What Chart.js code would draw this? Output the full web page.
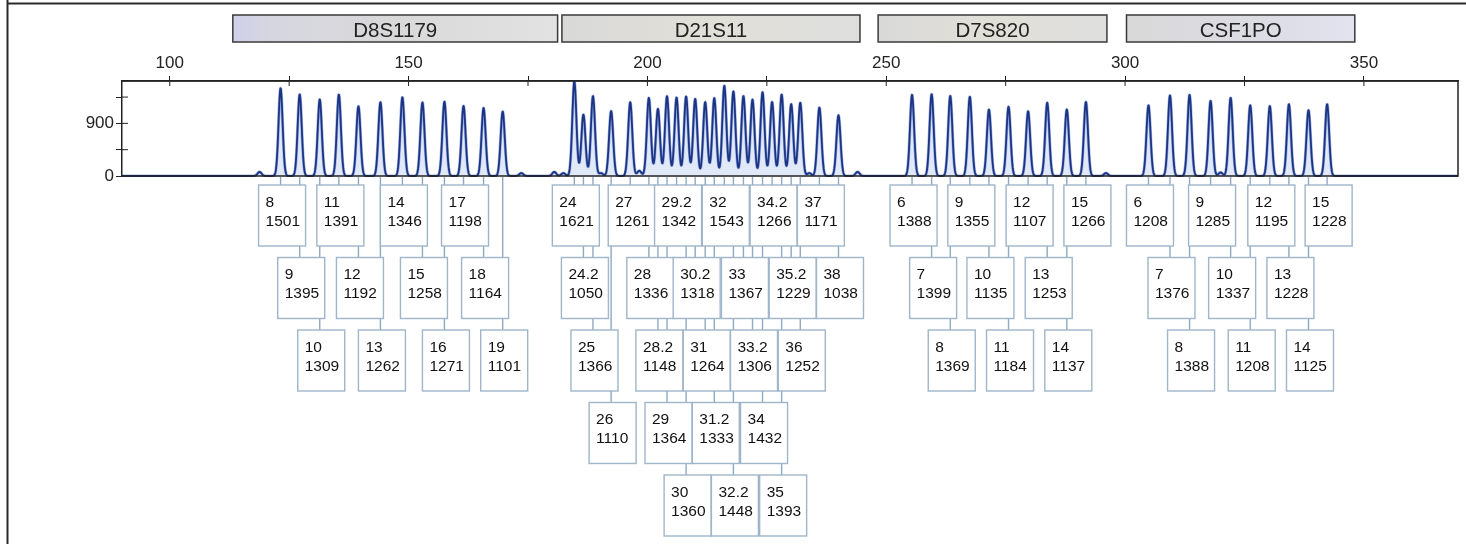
<!DOCTYPE html>
<html><head><meta charset="utf-8">
<script src="https://cdn.jsdelivr.net/npm/chart.js@4.4.1/dist/chart.umd.min.js"></script>
<style>html,body{margin:0;padding:0;background:#fff;overflow:hidden}#wrap{position:relative;width:1466px;height:544px}</style>
</head><body><div id="wrap"><canvas id="c" width="1466" height="544"></canvas></div>
<script>
// ---- data ----
const markerNames = ['D8S1179','D21S11','D7S820','CSF1PO'];
const markerStart = [113.2,182.1,248.3,300.3];
const markerEnd   = [181.2,244.5,296.2,348.1];

const d8Alleles = ['8','9','10','11','12','13','14','15','16','17','18','19'];
const d8Sizes   = [123.2,127.2,131.4,135.4,139.5,144.1,148.7,152.9,157.5,161.5,165.7,169.7];
const d8Heights = [1501,1395,1309,1391,1192,1262,1346,1258,1271,1198,1164,1101];

const d21Alleles = ['24','24.2','25','26','27','28','28.2','29','29.2','30','30.2','31','31.2','32','32.2','33','33.2','34','34.2','35','35.2','36','37','38'];
const d21Sizes   = [184.7,186.6,188.6,192.4,196.4,200.3,202.2,204.1,206.1,208.1,210.0,212.1,214.0,216.1,218.0,220.1,222.0,224.1,226.1,228.1,230.1,232.0,236.0,240.0];
const d21Heights = [1621,1050,1366,1110,1261,1336,1148,1364,1342,1360,1318,1264,1333,1543,1448,1367,1306,1432,1266,1393,1229,1252,1171,1038];

const d7Alleles = ['6','7','8','9','10','11','12','13','14','15'];
const d7Sizes   = [255.4,259.5,263.4,267.5,271.5,275.6,279.7,283.7,287.8,291.8];
const d7Heights = [1388,1399,1369,1355,1135,1184,1107,1253,1137,1266];

const csfAlleles = ['6','7','8','9','10','11','12','13','14','15'];
const csfSizes   = [304.9,309.4,313.5,317.9,322.1,326.2,330.3,334.3,338.4,342.3];
const csfHeights = [1208,1376,1388,1285,1337,1208,1195,1228,1125,1228];

const minorSizes   = [118.8,173.6,180.5,182.4,190.3,198.3,233.9,244.0,296.0,320.0];
const minorHeights = [70,50,70,50,50,90,50,70,50,60];

const xTicks      = [100,125,150,175,200,225,250,275,300,325,350];
const xTickLabels = ['100','','150','','200','','250','','300','','350'];
const yTicks      = [0,450,900,1350];
const yTickLabels = ['0','','900',''];

// ---- build ----
const FONT = '"Liberation Sans", Arial, Helvetica, sans-serif';
function pts(sizes, heights, alleles){
  return sizes.map((s,i)=>({x:s, y:heights[i], allele: alleles ? alleles[i] : null}));
}
const loci = [
  pts(d8Sizes,d8Heights,d8Alleles),
  pts(d21Sizes,d21Heights,d21Alleles),
  pts(d7Sizes,d7Heights,d7Alleles),
  pts(csfSizes,csfHeights,csfAlleles)
];
const datasets = loci.map((d,i)=>({label:markerNames[i], data:d, pointRadius:0, showLine:false, isLocus:true}));
datasets.push({label:'minor', data:pts(minorSizes,minorHeights,null), pointRadius:0, showLine:false, isLocus:false});

const SIGMA_BP = 0.43;

const epgPlugin = {
  id:'epg',
  beforeDatasetsDraw(chart){
    const ctx = chart.ctx, ca = chart.chartArea, xs = chart.scales.x, ys = chart.scales.y;
    const base = ys.getPixelForValue(0);
    const peaks = [];
    chart.data.datasets.forEach((ds,i)=>{
      chart.getDatasetMeta(i).data.forEach(el=>peaks.push({x:el.x, h:base-el.y}));
    });
    const sig = xs.getPixelForValue(200+SIGMA_BP) - xs.getPixelForValue(200);
    const pathPts = [];
    for(let px=ca.left; px<=ca.right; px+=0.25){
      let v=0;
      for(const p of peaks){ const d=(px-p.x)/sig; if(d>-7&&d<7) v+=p.h*Math.exp(-0.5*d*d); }
      pathPts.push([px, base - v]);
    }
    ctx.save();
    ctx.beginPath(); ctx.rect(ca.left, ca.top-1, ca.right-ca.left, ca.bottom-ca.top+2); ctx.clip();
    ctx.beginPath();
    pathPts.forEach((p,i)=> i?ctx.lineTo(p[0],p[1]):ctx.moveTo(p[0],p[1]));
    ctx.lineTo(ca.right, base); ctx.lineTo(ca.left, base); ctx.closePath();
    ctx.fillStyle='rgba(90,130,215,0.18)'; ctx.fill();
    ctx.beginPath();
    pathPts.forEach((p,i)=> i?ctx.lineTo(p[0],p[1]):ctx.moveTo(p[0],p[1]));
    ctx.strokeStyle='rgba(70,110,200,0.5)'; ctx.lineWidth=3; ctx.lineJoin='round'; ctx.stroke();
    ctx.strokeStyle='#1c3483'; ctx.lineWidth=1.8; ctx.stroke();
    ctx.restore();
  },
  afterDraw(chart){
    const ctx = chart.ctx, ca = chart.chartArea, xs = chart.scales.x, ys = chart.scales.y;
    ctx.save();
    // plot frame (top, right, bottom)
    ctx.strokeStyle='#222'; ctx.lineWidth=1.5;
    ctx.beginPath();
    ctx.moveTo(ca.left, ca.top); ctx.lineTo(ca.right, ca.top); ctx.lineTo(ca.right, ca.bottom); ctx.lineTo(ca.left, ca.bottom);
    ctx.stroke();
    // inner parts of ticks
    ctx.lineWidth=1;
    xTicks.forEach(v=>{ const x=xs.getPixelForValue(v); ctx.beginPath(); ctx.moveTo(x, ca.top); ctx.lineTo(x, ca.top+5); ctx.stroke(); });
    yTicks.forEach(v=>{ if(v===0) return; const y=ys.getPixelForValue(v); ctx.beginPath(); ctx.moveTo(ca.left, y); ctx.lineTo(ca.left+6, y); ctx.stroke(); });

    // marker bins
    const mTop = ca.top-66, mH = 27;
    markerNames.forEach((name,i)=>{
      const x0 = xs.getPixelForValue(markerStart[i]), x1 = xs.getPixelForValue(markerEnd[i]);
      const g = ctx.createLinearGradient(x0,0,x1,0);
      if(i===0){ g.addColorStop(0,'#cfd0ea'); g.addColorStop(0.12,'#d6d6e0'); g.addColorStop(0.5,'#d9d9d9'); g.addColorStop(1,'#e2e2e2'); }
      else if(i===3){ g.addColorStop(0,'#d9d9d9'); g.addColorStop(0.6,'#dcdce4'); g.addColorStop(1,'#e3e3f0'); }
      else { g.addColorStop(0,'#d9d9d9'); g.addColorStop(0.5,'#e1e0d8'); g.addColorStop(1,'#dedede'); }
      ctx.fillStyle=g; ctx.fillRect(x0,mTop,x1-x0,mH);
      ctx.strokeStyle='#3a3a3a'; ctx.lineWidth=1.5; ctx.strokeRect(x0,mTop,x1-x0,mH);
      ctx.fillStyle='#222'; ctx.font='20.5px '+FONT; ctx.textAlign='center'; ctx.textBaseline='alphabetic';
      ctx.fillText(name,(x0+x1)/2,mTop+22);
    });

    // allele label boxes
    const W=47, H=61, ROWGAP=72.5, base = ca.bottom;
    const labels=[];
    chart.data.datasets.forEach((ds,i)=>{
      if(!ds.isLocus) return;
      chart.getDatasetMeta(i).data.forEach((el,j)=>labels.push({px:el.x, allele:ds.data[j].allele, h:ds.data[j].y}));
    });
    labels.sort((a,b)=>a.px-b.px);
    const rowRight=[];
    labels.forEach(l=>{
      const left = l.px + 1.5 - W/2;
      let r=0;
      while(rowRight[r]!==undefined && left < rowRight[r]-1.5) r++;
      rowRight[r]=left+W;
      l.left=left; l.top = base+9+r*ROWGAP;
    });
    ctx.strokeStyle='#8eaac2'; ctx.lineWidth=1.4;
    labels.forEach(l=>{ ctx.beginPath(); ctx.moveTo(l.px, base+1); ctx.lineTo(l.px, l.top); ctx.stroke(); });
    labels.forEach(l=>{
      ctx.fillStyle='#fff'; ctx.fillRect(l.left,l.top,W,H);
      ctx.strokeStyle='#9fb6ca'; ctx.lineWidth=1.4; ctx.strokeRect(l.left,l.top,W,H);
    });
    ctx.fillStyle='#111'; ctx.font='15.5px '+FONT; ctx.textAlign='left'; ctx.textBaseline='alphabetic';
    labels.forEach(l=>{
      ctx.fillText(l.allele, l.left+7, l.top+21.5, W-9);
      ctx.fillText(String(l.h), l.left+7, l.top+40.5, W-9);
    });

    // outer frame remnants
    ctx.strokeStyle='#2a2a2a'; ctx.lineWidth=2;
    ctx.beginPath(); ctx.moveTo(7.5,0); ctx.lineTo(7.5,chart.height); ctx.stroke();
    ctx.beginPath(); ctx.moveTo(7,3.5); ctx.lineTo(chart.width,3.5); ctx.stroke();
    ctx.restore();
  }
};

new Chart(document.getElementById('c'), {
  type:'scatter',
  data:{datasets},
  options:{
    responsive:false, animation:false, devicePixelRatio:1,
    layout:{padding:{left:0, top:0, right:8, bottom:368}},
    plugins:{legend:{display:false}, tooltip:{enabled:false}, title:{display:false}},
    scales:{
      x:{type:'linear', position:'top', min:90, max:369.7,
         afterBuildTicks(s){ s.ticks = xTicks.map(v=>({value:v})); },
         afterFit(s){ s.height = 81; },
         ticks:{autoSkip:false, maxRotation:0, padding:2, color:'#222', font:{family:FONT, size:17},
                callback:(v)=>{ const i=xTicks.indexOf(v); return i>=0?xTickLabels[i]:''; }},
         grid:{drawOnChartArea:false, drawTicks:true, tickLength:5, color:'#222', lineWidth:1},
         border:{display:true, color:'#222', width:1.5}},
      y:{type:'linear', min:0, max:1625,
         afterBuildTicks(s){ s.ticks = yTicks.map(v=>({value:v})); },
         afterFit(s){ s.width = 122; },
         ticks:{autoSkip:false, padding:2, color:'#222', font:{family:FONT, size:17},
                callback:(v)=>{ const i=yTicks.indexOf(v); return i>=0?yTickLabels[i]:''; }},
         grid:{drawOnChartArea:false, drawTicks:true, tickLength:6, color:'#222', lineWidth:1},
         border:{display:true, color:'#222', width:1.5}}
    }
  },
  plugins:[epgPlugin]
});
</script></body></html>
